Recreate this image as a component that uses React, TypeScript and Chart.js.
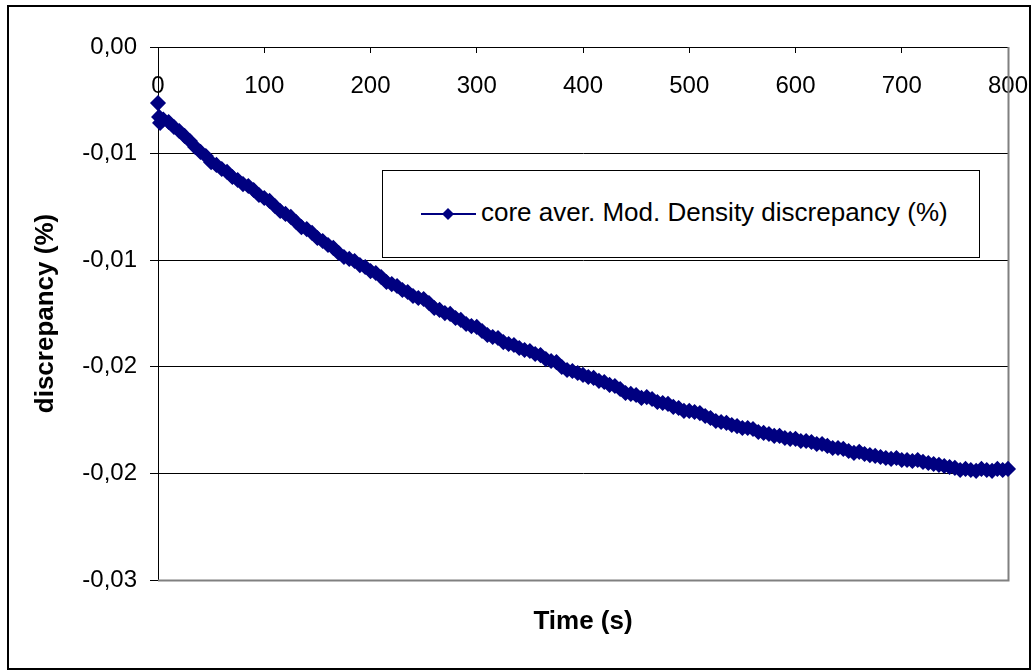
import React, { useEffect, useRef } from "react";
import { Chart, registerables } from "chart.js";

Chart.register(...registerables);

const SERIES_LABEL = "core aver. Mod. Density discrepancy (%)";
const X_TITLE = "Time (s)";
const Y_TITLE = "discrepancy (%)";
const Y_TICK_LABELS = ["0,00", "-0,01", "-0,01", "-0,02", "-0,02", "-0,03"];

const TIME = [
  0, 1, 2,
  5, 10, 15, 20, 25, 30, 35, 40, 45, 50,
  55, 60, 65, 70, 75, 80, 85, 90, 95, 100,
  105, 110, 115, 120, 125, 130, 135, 140, 145, 150,
  155, 160, 165, 170, 175, 180, 185, 190, 195, 200,
  205, 210, 215, 220, 225, 230, 235, 240, 245, 250,
  255, 260, 265, 270, 275, 280, 285, 290, 295, 300,
  305, 310, 315, 320, 325, 330, 335, 340, 345, 350,
  355, 360, 365, 370, 375, 380, 385, 390, 395, 400,
  405, 410, 415, 420, 425, 430, 435, 440, 445, 450,
  455, 460, 465, 470, 475, 480, 485, 490, 495, 500,
  505, 510, 515, 520, 525, 530, 535, 540, 545, 550,
  555, 560, 565, 570, 575, 580, 585, 590, 595, 600,
  605, 610, 615, 620, 625, 630, 635, 640, 645, 650,
  655, 660, 665, 670, 675, 680, 685, 690, 695, 700,
  705, 710, 715, 720, 725, 730, 735, 740, 745, 750,
  755, 760, 765, 770, 775, 780, 785, 790, 795, 800,
];

const DISCREPANCY = [
  -0.00263, -0.00328, -0.00356,
  -0.0034, -0.00352, -0.00375, -0.00394, -0.00417, -0.00441, -0.00469, -0.00492, -0.00511, -0.0054,
  -0.00553, -0.00572, -0.00586, -0.0061, -0.00624, -0.00643, -0.00652, -0.00671, -0.00694, -0.00708,
  -0.00722, -0.00746, -0.00769, -0.00783, -0.00797, -0.00821, -0.00845, -0.00854, -0.00872, -0.00896,
  -0.0091, -0.00929, -0.00942, -0.00966, -0.00985, -0.00994, -0.01004, -0.01023, -0.01032, -0.01051,
  -0.0106, -0.01079, -0.01102, -0.01112, -0.01121, -0.0114, -0.01149, -0.01168, -0.01177, -0.01182,
  -0.01201, -0.01224, -0.01233, -0.01248, -0.01252, -0.01271, -0.0128, -0.01299, -0.01309, -0.01313,
  -0.01332, -0.01351, -0.0136, -0.01365, -0.01384, -0.01393, -0.01398, -0.01412, -0.01421, -0.01426,
  -0.0144, -0.01445, -0.01464, -0.01473, -0.01478, -0.01501, -0.01515, -0.0152, -0.01529, -0.01538,
  -0.01548, -0.01552, -0.01566, -0.01571, -0.01585, -0.0159, -0.01604, -0.01623, -0.01627, -0.01632,
  -0.01646, -0.01642, -0.01651, -0.01665, -0.0167, -0.01674, -0.01688, -0.01693, -0.01707, -0.01707,
  -0.01712, -0.01717, -0.01731, -0.0174, -0.01754, -0.01759, -0.01763, -0.01773, -0.01778, -0.01787,
  -0.01787, -0.01792, -0.01806, -0.0181, -0.01815, -0.01824, -0.01824, -0.01834, -0.01838, -0.01838,
  -0.01848, -0.01848, -0.01853, -0.01862, -0.01862, -0.01871, -0.01881, -0.01881, -0.01885, -0.01895,
  -0.01904, -0.01899, -0.01909, -0.01914, -0.01918, -0.01923, -0.01928, -0.01932, -0.01928, -0.01937,
  -0.01937, -0.01942, -0.01937, -0.01946, -0.01951, -0.01956, -0.0196, -0.01965, -0.0197, -0.01974,
  -0.01984, -0.01979, -0.01984, -0.01988, -0.01979, -0.01984, -0.01988, -0.01979, -0.01984, -0.01979,
];

const NAVY = "#000080";
const FONT_FAMILY = "'Liberation Sans', Arial, sans-serif";

const framePlugin = {
  id: "plotFrame",
  beforeDatasetsDraw(chart: any) {
    const { ctx, chartArea: a } = chart;
    ctx.save();
    ctx.strokeStyle = "#808080";
    ctx.lineWidth = 2;
    ctx.beginPath();
    ctx.moveTo(a.right + 0.5, a.top);
    ctx.lineTo(a.right + 0.5, a.bottom + 0.5);
    ctx.lineTo(a.left, a.bottom + 0.5);
    ctx.stroke();
    ctx.restore();
  },
};

export default function App() {
  const ref = useRef<HTMLCanvasElement>(null);

  useEffect(() => {
    if (!ref.current) return;
    const chart = new Chart(ref.current, {
      type: "line",
      data: {
        datasets: [
          {
            label: SERIES_LABEL,
            data: TIME.map((t, i) => ({ x: t, y: DISCREPANCY[i] })),
            borderColor: NAVY,
            backgroundColor: NAVY,
            borderWidth: 2,
            pointStyle: "rectRot",
            pointRadius: 7,
            pointBorderWidth: 1.5,
            pointBackgroundColor: NAVY,
            pointBorderColor: NAVY,
            tension: 0,
            clip: false as any,
          },
        ],
      },
      options: {
        responsive: false,
        animation: false,
        devicePixelRatio: 1,
        layout: { padding: { left: 0, top: 47, right: 28, bottom: 0 } },
        plugins: { legend: { display: false }, tooltip: { enabled: false } },
        scales: {
          x: {
            type: "linear",
            position: "top",
            min: 0,
            max: 800,
            afterFit: (s: any) => {
              s.height = 0;
              s.paddingLeft = 0;
              s.paddingRight = 0;
            },
            ticks: {
              stepSize: 100,
              mirror: true,
              padding: 25,
              autoSkip: false,
              maxRotation: 0,
              color: "#000",
              font: { family: FONT_FAMILY, size: 24 },
            },
            grid: { drawOnChartArea: false, drawTicks: true, tickLength: -6, color: "#000" },
            border: { color: "#000", width: 1 },
          },
          x2: {
            type: "linear",
            position: "bottom",
            afterFit: (s: any) => {
              s.height = 90;
            },
            ticks: { display: false },
            grid: { display: false },
            border: { display: false },
            title: {
              display: true,
              text: X_TITLE,
              color: "#000",
              font: { family: FONT_FAMILY, size: 26, weight: "bold" },
              padding: { top: 0, bottom: 33 },
            },
          },
          y: {
            type: "linear",
            position: "left",
            min: -0.025,
            max: 0,
            afterFit: (s: any) => {
              s.width = 158;
            },
            ticks: {
              stepSize: 0.005,
              padding: 13,
              color: "#000",
              font: { family: FONT_FAMILY, size: 24 },
              callback: (v: any) => Y_TICK_LABELS[Math.round(-Number(v) / 0.005)],
            },
            grid: { color: "#000", tickLength: 8, lineWidth: 1 },
            border: { color: "#000", width: 1 },
            title: {
              display: true,
              text: Y_TITLE,
              color: "#000",
              font: { family: FONT_FAMILY, size: 26, weight: "bold" },
              padding: { top: 30, bottom: 0 },
            },
          },
        },
      },
      plugins: [framePlugin],
    } as any);
    return () => chart.destroy();
  }, []);

  return (
    <div>
      <canvas
        ref={ref}
        width={1036}
        height={670}
        style={{ position: "absolute", left: 0, top: 0, width: 1036, height: 670 }}
      />
      <div
        style={{
          position: "absolute",
          left: 7,
          top: 5,
          width: 1024,
          height: 665,
          border: "2px solid #000",
          boxSizing: "border-box",
          pointerEvents: "none",
        }}
      />
      <div
        style={{
          position: "absolute",
          left: 382,
          top: 170,
          width: 598,
          height: 88,
          border: "1px solid #000",
          boxSizing: "border-box",
          background: "#fff",
        }}
      >
        <svg
          width={70}
          height={20}
          style={{ position: "absolute", left: 36, top: 33 }}
        >
          <line x1={2} y1={10} x2={57} y2={10} stroke={NAVY} strokeWidth={2} />
          <polygon points="29,4 35,10 29,16 23,10" fill={NAVY} />
        </svg>
        <div
          style={{
            position: "absolute",
            left: 98,
            top: 28,
            fontFamily: FONT_FAMILY,
            fontSize: 26,
            lineHeight: "26px",
            color: "#000",
            whiteSpace: "nowrap",
          }}
        >
          {SERIES_LABEL}
        </div>
      </div>
    </div>
  );
}
